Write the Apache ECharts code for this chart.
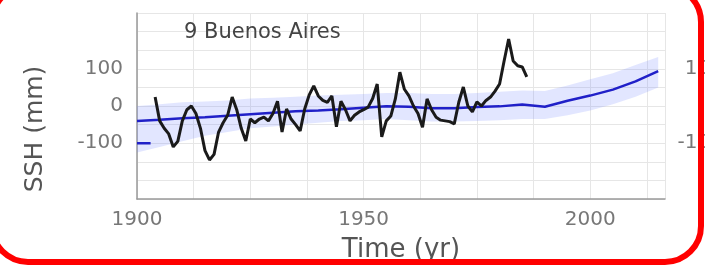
<!DOCTYPE html>
<html>
<head>
<meta charset="utf-8">
<script src="https://cdn.jsdelivr.net/npm/echarts@6/dist/echarts.min.js"></script>
<style>
html,body{margin:0;padding:0;background:#fff;}
#main{width:705px;height:267px;}
</style>
</head>
<body>
<div id="main"></div>
<script>
// tide gauge record (annual, mm)
var obsStart = 1904;
var obsValues = [24,-40,-60,-75,-110,-95,-40,-10,0,-20,
    -60,-120,-145,-130,-70,-45,-25,24,-10,-60,
    -94,-35,-45,-35,-30,-40,-20,13,-70,-8,
    -35,-50,-67,-8,30,54,27,15,10,27,
    -56,13,-10,-40,-25,-16,-10,-3,20,59,
    -83,-40,-27,19,91,45,27,0,-20,-57,
    19,-10,-30,-38,-40,-42,-48,10,51,0,
    -16,11,0,15,24,40,59,121,180,121,
    108,105,78];
// model mean and its band
var modelYears = [1900,1905,1910,1915,1920,1925,1930,1935,1940,1945,1950,1955,1960,1965,1970,1975,1980,1985,1990,1995,2000,2005,2010,2015];
var modelValues = [-40,-37,-33,-30,-26,-22,-18,-14,-12,-9,-5,-1,-2,-6,-6,-3,-1,4,-2,14,28,44,66,94];
var bandLow = [-125,-110,-95,-80,-70,-60,-55,-50,-45,-40,-38,-35,-38,-42,-42,-40,-38,-35,-35,-25,-12,5,25,50];
var bandHigh = [0,5,10,12,15,20,22,25,28,30,32,35,35,32,32,35,38,42,40,55,72,88,110,132];
var startYears = [1900,1903];
var startValues = [-100,-100];
var xTickLabels = [1900,1950,2000];
var yTickLabels = [-100,0,100];

var obsData = [];
for (var i = 0; i < obsValues.length; i++) {
    obsData.push([obsStart + i, obsValues[i]]);
}
var modelData = [];
var bandData = [];
for (var i = 0; i < modelYears.length; i++) {
    modelData.push([modelYears[i], modelValues[i]]);
    bandData.push([modelYears[i], bandLow[i], bandHigh[i]]);
}
var startData = [];
for (var i = 0; i < startYears.length; i++) {
    startData.push([startYears[i], startValues[i]]);
}

var font = 'DejaVu Sans';
var myChart = echarts.init(document.getElementById('main'));
var yLabel = function (v) {
    return yTickLabels.indexOf(v) >= 0 ? String(v) : '';
};
var option = {
    backgroundColor: '#fff',
    animation: false,
    textStyle: { fontFamily: font },
    title: {
        text: '9 Buenos Aires',
        left: 184, top: 22, padding: 0,
        textStyle: { fontSize: 21, fontWeight: 'normal', color: '#444', fontFamily: font }
    },
    grid: { left: 137, right: 40, top: 13, bottom: 68, outerBoundsMode: 'none', containLabel: false },
    xAxis: {
        type: 'value',
        min: 1900, max: 2016.5, interval: 12.5,
        name: 'Time (yr)', nameLocation: 'middle', nameGap: 38,
        nameTextStyle: { fontSize: 26, color: '#555', fontFamily: font },
        axisLine: { onZero: false, lineStyle: { color: '#999', width: 1.5 } },
        axisTick: { show: false },
        splitLine: { show: true, lineStyle: { color: '#e6e6e6', width: 1 } },
        axisLabel: {
            fontSize: 20, color: '#777', margin: 11, showMaxLabel: false,
            formatter: function (v) { return xTickLabels.indexOf(v) >= 0 ? String(v) : ''; }
        }
    },
    yAxis: [{
        type: 'value',
        min: -250, max: 250, interval: 50,
        name: 'SSH (mm)', nameLocation: 'middle', nameGap: 89,
        nameTextStyle: { fontSize: 25, color: '#555', fontFamily: font, padding: [0, 46, 0, 0] },
        axisLine: { show: true, onZero: false, lineStyle: { color: '#999', width: 1.5 } },
        axisTick: { show: false },
        splitLine: { show: true, lineStyle: { color: '#e6e6e6', width: 1 } },
        axisLabel: { fontSize: 20, color: '#777', margin: 14, formatter: yLabel }
    }, {
        type: 'value', position: 'right',
        min: -250, max: 250, interval: 50,
        axisLine: { show: false },
        axisTick: { show: false },
        splitLine: { show: false },
        axisLabel: { fontSize: 20, color: '#777', margin: 58, align: 'right', formatter: yLabel }
    }],
    series: [{
        name: 'band',
        type: 'custom',
        silent: true,
        data: bandData,
        encode: { x: 0, y: [1, 2] },
        z: 1,
        renderItem: function (params, api) {
            if (params.dataIndex !== 0) return;
            var pts = [];
            for (var i = 0; i < bandData.length; i++) {
                pts.push(api.coord([bandData[i][0], bandData[i][2]]));
            }
            for (var i = bandData.length - 1; i >= 0; i--) {
                pts.push(api.coord([bandData[i][0], bandData[i][1]]));
            }
            return {
                type: 'polygon',
                shape: { points: pts },
                style: { fill: 'rgba(110,130,255,0.2)' }
            };
        }
    }, {
        name: 'start',
        type: 'line',
        data: startData,
        symbol: 'none',
        z: 3,
        lineStyle: { color: '#2020c8', width: 2.5 }
    }, {
        name: 'model',
        type: 'line',
        data: modelData,
        symbol: 'none',
        z: 3,
        lineStyle: { color: '#2020c8', width: 2.5 }
    }, {
        name: 'obs',
        type: 'line',
        data: obsData,
        symbol: 'none',
        z: 4,
        lineStyle: { color: '#1a1a1a', width: 3 }
    }],
    graphic: [{
        type: 'rect',
        z: 100,
        silent: true,
        shape: { x: -8, y: -14, width: 709, height: 276, r: 36 },
        style: { fill: null, stroke: '#ff0000', lineWidth: 6 }
    }]
};
myChart.setOption(option);
</script>
</body>
</html>
